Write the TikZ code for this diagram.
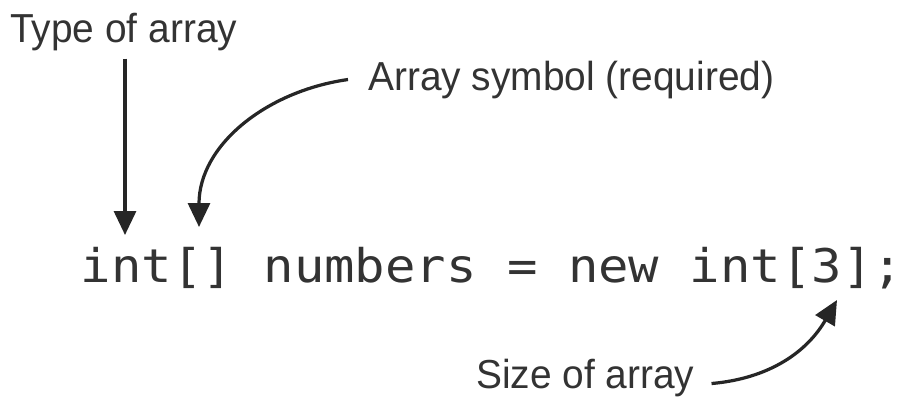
\documentclass[tikz,border=0pt]{standalone}
\usepackage{fontspec}
\setmainfont{Liberation Sans}[FakeStretch=0.96]
\setmonofont{DejaVu Sans Mono}[FakeStretch=1.09]
\usetikzlibrary{arrows.meta}
\definecolor{inkgray}{HTML}{333333}
\begin{document}
\begin{tikzpicture}[every node/.style={inner sep=0pt,text=inkgray},
  lbl/.style={font=\fontsize{28.8}{34}\selectfont,anchor=base west},
  arr/.style={line width=2.3pt,draw=black!85,-{Triangle[length=0.6cm,width=0.55cm]}}]
\useasboundingbox (0,0) rectangle (22.75,9.95);
\node[font=\ttfamily\fontsize{33}{40}\selectfont,anchor=base] (code) at (12.3,2.9) {int[] numbers = new int[3];};
\node[lbl] (type) at (0.25,8.875) {Type of array};
\node[lbl] (sym) at (9.2,7.7) {Array symbol (required)};
\node[lbl] (size) at (11.9,0.25) {Size of array};
\coordinate (intarr) at (3.125,4.075);
\coordinate (brkarr) at (4.975,4.275);
\coordinate (numarr) at (20.925,2.45);
\draw[arr] ([yshift=-5pt]type.south -| intarr) -- (intarr);
\draw[arr] ([xshift=-0.5cm]sym.west) to[out=188,in=90] (brkarr);
\draw[arr] ([xshift=0.42cm,yshift=-0.15cm]size.east) to[out=5,in=240] (numarr);
\end{tikzpicture}
\end{document}
